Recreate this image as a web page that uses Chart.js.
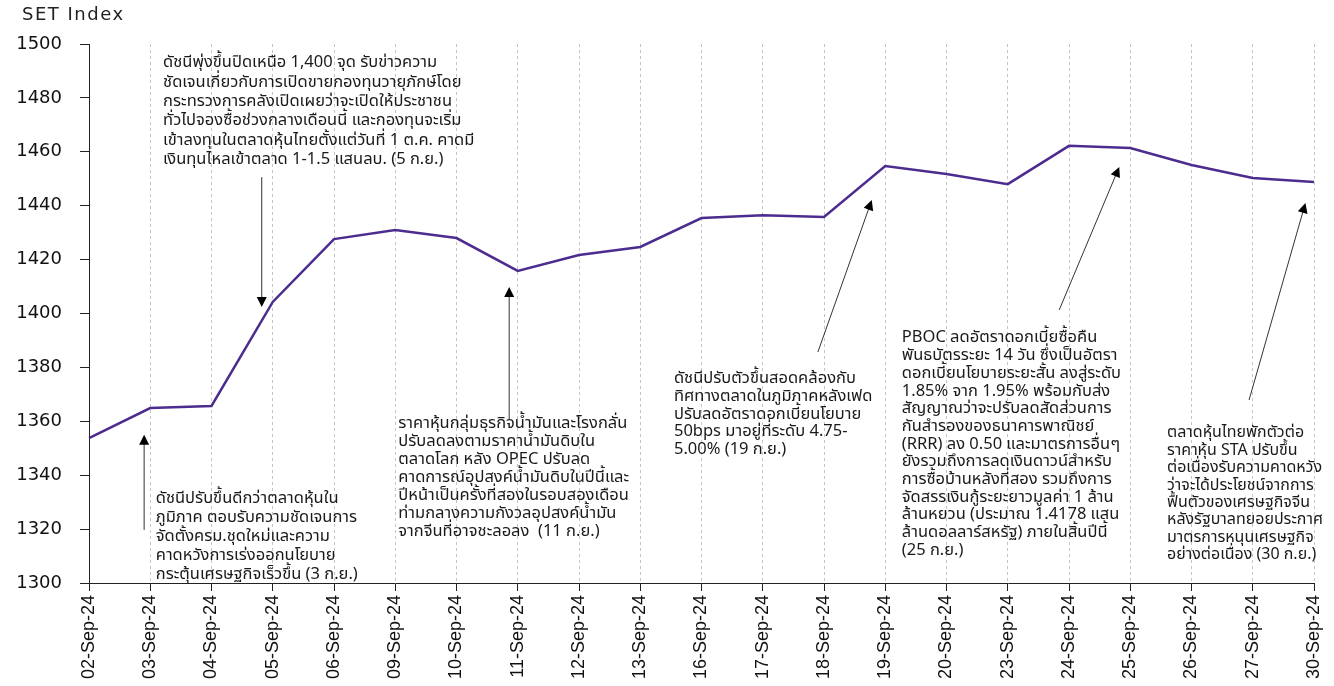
<!DOCTYPE html>
<html>
<head>
<meta charset="utf-8">
<script src="https://cdn.jsdelivr.net/npm/chart.js@4.4.1/dist/chart.umd.min.js"></script>
<style>
    html, body { margin: 0; padding: 0; background: #fff; }
    #wrap { width: 1334px; height: 686px; }
</style>
</head>
<body>
<div id="wrap"><canvas id="setChart" width="1334" height="686"></canvas></div>
<script>
// SET index, September 2024
const dates = ['02-Sep-24', '03-Sep-24', '04-Sep-24', '05-Sep-24', '06-Sep-24', '09-Sep-24', '10-Sep-24',
    '11-Sep-24', '12-Sep-24', '13-Sep-24', '16-Sep-24', '17-Sep-24', '18-Sep-24', '19-Sep-24',
    '20-Sep-24', '23-Sep-24', '24-Sep-24', '25-Sep-24', '26-Sep-24', '27-Sep-24', '30-Sep-24'];
const setIndex = [1353.8, 1364.9, 1365.7, 1404.3, 1427.6, 1431.0, 1428.0, 1415.8, 1421.7, 1424.7,
    1435.4, 1436.5, 1435.8, 1454.7, 1451.8, 1448.0, 1462.2, 1461.4, 1455.1, 1450.3, 1448.8];
const yMin = 1300;
const yMax = 1500;
const yStep = 20;

// notes: text anchored in axis units (x = category index, y = index level)
const notes = [
    {
        x: 1.21, y: 1492.6, lh: 19.4, size: 16.5,
        lines: ['ดัชนีพุ่งขึ้นปิดเหนือ 1,400 จุด รับข่าวความ',
            'ชัดเจนเกี่ยวกับการเปิดขายกองทุนวายุภักษ์โดย',
            'กระทรวงการคลังเปิดเผยว่าจะเปิดให้ประชาชน',
            'ทั่วไปจองซื้อช่วงกลางเดือนนี้ และกองทุนจะเริ่ม',
            'เข้าลงทุนในตลาดหุ้นไทยตั้งแต่วันที่ 1 ต.ค. คาดมี',
            'เงินทุนไหลเข้าตลาด 1-1.5 แสนลบ. (5 ก.ย.)'],
        arrow: { from: [2.82, 1450.6], to: [2.82, 1402.4] }
    },
    {
        x: 1.09, y: 1330.8, lh: 19, size: 16.5,
        lines: ['ดัชนีปรับขึ้นดีกว่าตลาดหุ้นใน',
            'ภูมิภาค ตอบรับความชัดเจนการ',
            'จัดตั้งครม.ชุดใหม่และความ',
            'คาดหวังการเร่งออกนโยบาย',
            'กระตุ้นเศรษฐกิจเร็วขึ้น (3 ก.ย.)'],
        arrow: { from: [0.9, 1319.7], to: [0.9, 1355.0] }
    },
    {
        x: 5.05, y: 1358.6, lh: 18, size: 16.5,
        lines: ['ราคาหุ้นกลุ่มธุรกิจน้ำมันและโรงกลั่น',
            'ปรับลดลงตามราคาน้ำมันดิบใน',
            'ตลาดโลก หลัง OPEC ปรับลด',
            'คาดการณ์อุปสงค์น้ำมันดิบในปีนี้และ',
            'ปีหน้าเป็นครั้งที่สองในรอบสองเดือน',
            'ท่ามกลางความกังวลอุปสงค์น้ำมัน',
            'จากจีนที่อาจชะลอลง  (11 ก.ย.)'],
        arrow: { from: [6.86, 1360.5], to: [6.86, 1409.8] }
    },
    {
        x: 9.55, y: 1375.3, lh: 17.6, size: 16.5,
        lines: ['ดัชนีปรับตัวขึ้นสอดคล้องกับ',
            'ทิศทางตลาดในภูมิภาคหลังเฟด',
            'ปรับลดอัตราดอกเบี้ยนโยบาย',
            '50bps มาอยู่ที่ระดับ 4.75-',
            '5.00% (19 ก.ย.)'],
        arrow: { from: [11.9, 1385.7], to: [12.78, 1442.1] }
    },
    {
        x: 13.27, y: 1390.5, lh: 17.7, size: 16.5,
        lines: ['PBOC ลดอัตราดอกเบี้ยซื้อคืน',
            'พันธบัตรระยะ 14 วัน ซึ่งเป็นอัตรา',
            'ดอกเบี้ยนโยบายระยะสั้น ลงสู่ระดับ',
            '1.85% จาก 1.95% พร้อมกับส่ง',
            'สัญญาณว่าจะปรับลดสัดส่วนการ',
            'กันสำรองของธนาคารพาณิชย์',
            '(RRR) ลง 0.50 และมาตรการอื่นๆ',
            'ยังรวมถึงการลดเงินดาวน์สำหรับ',
            'การซื้อบ้านหลังที่สอง รวมถึงการ',
            'จัดสรรเงินกู้ระยะยาวมูลค่า 1 ล้าน',
            'ล้านหยวน (ประมาณ 1.4178 แสน',
            'ล้านดอลลาร์สหรัฐ) ภายในสิ้นปีนี้',
            '(25 ก.ย.)'],
        arrow: { from: [15.84, 1401.3], to: [16.82, 1454.4] }
    },
    {
        x: 17.6, y: 1355.2, lh: 17.4, size: 16,
        lines: ['ตลาดหุ้นไทยพักตัวต่อ',
            'ราคาหุ้น STA ปรับขึ้น',
            'ต่อเนื่องรับความคาดหวัง',
            'ว่าจะได้ประโยชน์จากการ',
            'ฟื้นตัวของเศรษฐกิจจีน',
            'หลังรัฐบาลทยอยประกาศ',
            'มาตรการหนุนเศรษฐกิจ',
            'อย่างต่อเนื่อง (30 ก.ย.)'],
        arrow: { from: [18.94, 1367.9], to: [19.86, 1441.0] }
    }
];

const thaiFont = '"Noto Sans Thai", "Noto Sans", "DejaVu Sans", sans-serif';

// draws the notes, arrows and the axis caption
const notesPlugin = {
    id: 'notes',
    afterDatasetsDraw(chart) {
        const ctx = chart.ctx;
        const xs = chart.scales.x;
        const ys = chart.scales.y;
        ctx.save();

        // caption
        ctx.fillStyle = '#222';
        ctx.font = '18px "DejaVu Sans", sans-serif';
        ctx.letterSpacing = '1.5px';
        ctx.textBaseline = 'middle';
        ctx.textAlign = 'left';
        ctx.fillText('SET Index', 22, 15);
        ctx.letterSpacing = '0px';

        notes.forEach(note => {
            // text
            ctx.fillStyle = '#1a1a1a';
            ctx.font = note.size + 'px ' + thaiFont;
            ctx.textBaseline = 'middle';
            ctx.textAlign = 'left';
            const tx = xs.getPixelForValue(note.x);
            const ty = ys.getPixelForValue(note.y);
            note.lines.forEach((line, i) => {
                ctx.fillText(line, tx, ty + i * note.lh);
            });

            // arrow
            const x1 = xs.getPixelForValue(note.arrow.from[0]);
            const y1 = ys.getPixelForValue(note.arrow.from[1]);
            const x2 = xs.getPixelForValue(note.arrow.to[0]);
            const y2 = ys.getPixelForValue(note.arrow.to[1]);
            const ang = Math.atan2(y2 - y1, x2 - x1);
            const head = 10;
            ctx.strokeStyle = '#333';
            ctx.lineWidth = 1;
            ctx.beginPath();
            ctx.moveTo(x1, y1);
            ctx.lineTo(x2 - Math.cos(ang) * head * 0.8, y2 - Math.sin(ang) * head * 0.8);
            ctx.stroke();
            ctx.fillStyle = '#000';
            ctx.beginPath();
            ctx.moveTo(x2, y2);
            ctx.lineTo(x2 - head * Math.cos(ang) + 5 * Math.sin(ang), y2 - head * Math.sin(ang) - 5 * Math.cos(ang));
            ctx.lineTo(x2 - head * Math.cos(ang) - 5 * Math.sin(ang), y2 - head * Math.sin(ang) + 5 * Math.cos(ang));
            ctx.closePath();
            ctx.fill();
        });
        ctx.restore();
    }
};

new Chart(document.getElementById('setChart'), {
    type: 'line',
    data: {
        labels: dates,
        datasets: [{
            label: 'SET Index',
            data: setIndex,
            borderColor: '#4d2c8f',
            borderWidth: 2.5,
            pointRadius: 0,
            tension: 0,
            fill: false,
        }],
    },
    options: {
        responsive: false,
        animation: false,
        layout: {
            padding: { top: 44, right: 20, left: 0, bottom: 0 },
        },
        plugins: {
            legend: { display: false },
            tooltip: { enabled: false },
        },
        scales: {
            x: {
                offset: false,
                grid: {
                    color: '#c4c4c4',
                    tickColor: '#222',
                    tickLength: 8,
                    tickBorderDash: [],
                },
                border: { color: '#222', width: 1, dash: [3, 3] },
                ticks: {
                    color: '#111',
                    font: { family: '"Liberation Sans", Arial, sans-serif', size: 18 },
                    minRotation: 90,
                    maxRotation: 90,
                    autoSkip: false,
                    padding: 4,
                },
                afterFit: (scale) => {
                    scale.height = 103;
                    scale.paddingRight = 0;
                    scale.paddingLeft = 0;
                },
            },
            y: {
                min: yMin,
                max: yMax,
                grid: {
                    drawOnChartArea: false,
                    tickColor: '#222',
                    tickLength: 9,
                },
                border: { color: '#222', width: 1 },
                ticks: {
                    stepSize: yStep,
                    color: '#111',
                    padding: 18,
                    font: { family: '"DejaVu Sans", sans-serif', size: 18 },
                    callback: (value) => String(value),
                },
                afterFit: (scale) => { scale.width = 89; },
            },
        },
    },
    plugins: [notesPlugin],
});
</script>
</body>
</html>
